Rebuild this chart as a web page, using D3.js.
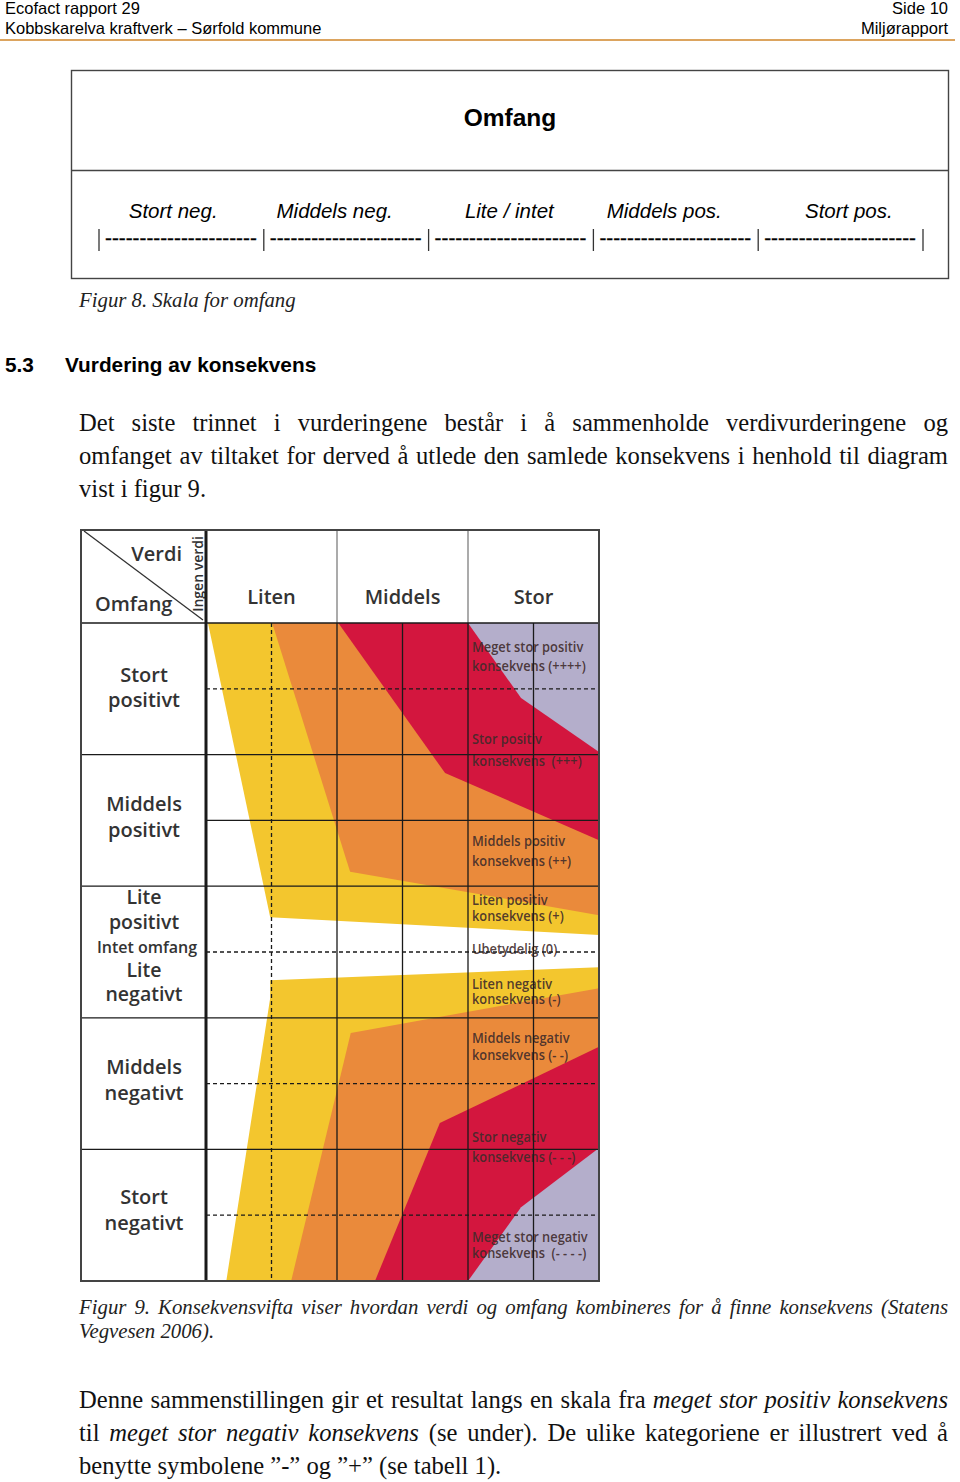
<!DOCTYPE html>
<html><head><meta charset="utf-8">
<script src="https://cdn.jsdelivr.net/npm/d3@7"></script>
<style>body{margin:0;background:#fff}text{white-space:pre}</style>
</head><body>
<svg id="c" width="960" height="1482"></svg>
<script>
// ---------------- DATA ----------------
const headerLeft = ["Ecofact rapport 29", "Kobbskarelva kraftverk – Sørfold kommune"];
const headerRight = ["Side 10", "Miljørapport"];
const omfangTitle = "Omfang";
const omfangScaleLabels = ["Stort neg.", "Middels neg.", "Lite / intet", "Middels pos.", "Stort pos."];
const omfangScaleLabelPos = [0.45, 1.43, 2.49, 3.43, 4.55];   // in segment units
const fig8Caption = "Figur 8. Skala for omfang";
const sectionNo = "5.3";
const sectionTitle = "Vurdering av konsekvens";
const para1 = [
  [{t: "Det siste trinnet i vurderingene består i å sammenholde verdivurderingene og"}],
  [{t: "omfanget av tiltaket for derved å utlede den samlede konsekvens i henhold til diagram"}],
  [{t: "vist i figur 9."}]
];
const fig9Caption = [
  [{t: "Figur 9. Konsekvensvifta viser hvordan verdi og omfang kombineres for å finne konsekvens (Statens", i: true}],
  [{t: "Vegvesen 2006).", i: true}]
];
const para2 = [
  [{t: "Denne sammenstillingen gir et resultat langs en skala fra "}, {t: "meget stor positiv konsekvens", i: true}],
  [{t: "til "}, {t: "meget stor negativ konsekvens", i: true}, {t: " (se under). De ulike kategoriene er illustrert ved å"}],
  [{t: "benytte symbolene ”-” og ”+” (se tabell 1)."}]
];

// Diagram: verdi axis 0..6 (Ingen verdi 0-1, Liten 0-2, Middels 2-4, Stor 4-6), omfang axis +5..-5
const verdiCategories = ["Liten", "Middels", "Stor"];
const verdiCategoryRange = [[0, 2], [2, 4], [4, 6]];
const verdiGrid = [1, 2, 3, 4, 5];
const verdiGridDashed = [1];
const omfangGrid = [4, 3, 2, 1, 0, -1, -2, -3, -4];
const omfangGridDashed = [4, 0, -2, -4];
const omfangGridFull = [3, 1, -1, -3];

const omfangRowLabels = [
  {t: "Stort", v: 4.21}, {t: "positivt", v: 3.83},
  {t: "Middels", v: 2.25}, {t: "positivt", v: 1.85},
  {t: "Lite", v: 0.83, mid: true}, {t: "positivt", v: 0.45, mid: true},
  {t: "Intet omfang", v: 0.08, small: true},
  {t: "Lite", v: -0.27, mid: true}, {t: "negativt", v: -0.64, mid: true},
  {t: "Middels", v: -1.75}, {t: "negativt", v: -2.14},
  {t: "Stort", v: -3.72}, {t: "negativt", v: -4.12}
];

// zone polygons, vertices as [verdi, omfang]
const zoneYellowPos   = [[0.03, 5], [6, 5], [6, 0.26], [0.98, 0.53]];
const zoneOrangePos   = [[1.01, 5], [6, 5], [6, 0.56], [2.2, 1.22]];
const zoneRedPos      = [[2.02, 5], [6, 5], [6, 1.70], [3.65, 2.72]];
const zoneLavenderPos = [[4.0, 5], [6, 5], [6, 3.04], [4.81, 3.86]];
const zoneYellowNeg   = [[0.98, -0.43], [6, -0.23], [6, -5], [0.31, -5], [0.98, -0.70]];
const zoneOrangeNeg   = [[2.21, -1.23], [6, -0.55], [6, -5], [1.30, -5]];
const zoneRedNeg      = [[3.57, -2.60], [6, -1.44], [6, -5], [2.58, -5]];
const zoneLavenderNeg = [[4.81, -3.88], [6, -2.98], [6, -5], [4.0, -5]];

const consequenceLabels = [
  {t: "Meget stor positiv", v: 4.63}, {t: "konsekvens (++++)", v: 4.35},
  {t: "Stor positiv", v: 3.23}, {t: "konsekvens  (+++)", v: 2.90},
  {t: "Middels positiv", v: 1.69}, {t: "konsekvens (++)", v: 1.38},
  {t: "Liten positiv", v: 0.79}, {t: "konsekvens (+)", v: 0.55},
  {t: "Ubetydelig (0)", v: 0.04},
  {t: "Liten negativ", v: -0.48}, {t: "konsekvens (-)", v: -0.71},
  {t: "Middels negativ", v: -1.31}, {t: "konsekvens (- -)", v: -1.57},
  {t: "Stor negativ", v: -2.81}, {t: "konsekvens (- - -)", v: -3.12},
  {t: "Meget stor negativ", v: -4.33}, {t: "konsekvens  (- - - -)", v: -4.57}
];

// ---------------- DRAW ----------------
const svg = d3.select("#c");
svg.append("rect").attr("width", 960).attr("height", 1482).attr("fill", "#fff");
const SANS = "'Liberation Sans', Arial, sans-serif";
const SERIF = "'Liberation Serif', 'Times New Roman', serif";
const DIAG = "'Open Sans', 'Noto Sans', sans-serif";

// page header
const hdr = svg.append("g").attr("font-family", SANS).attr("font-size", 16.5).attr("fill", "#000");
hdr.selectAll("text.l").data(headerLeft).join("text").attr("class", "l")
  .attr("x", 5).attr("y", (d, i) => 14 + i * 19.5).text(d => d);
hdr.selectAll("text.r").data(headerRight).join("text").attr("class", "r")
  .attr("x", 948).attr("text-anchor", "end").attr("y", (d, i) => 14 + i * 19.5).text(d => d);
svg.append("line").attr("x1", 0).attr("x2", 955).attr("y1", 40).attr("y2", 40)
  .attr("stroke", "#dca45f").attr("stroke-width", 2);

// Omfang scale box
const ob = svg.append("g");
ob.append("rect").attr("x", 71.5).attr("y", 70.5).attr("width", 877).attr("height", 208)
  .attr("fill", "none").attr("stroke", "#444").attr("stroke-width", 1.4);
ob.append("line").attr("x1", 71.5).attr("x2", 948.5).attr("y1", 170.5).attr("y2", 170.5)
  .attr("stroke", "#444").attr("stroke-width", 1.4);
ob.append("text").attr("x", 510).attr("y", 126).attr("text-anchor", "middle")
  .attr("font-family", SANS).attr("font-weight", "bold").attr("font-size", 24.5).text(omfangTitle);
const sx = d3.scaleLinear().domain([0, 5]).range([99, 923]);
ob.selectAll("text.sl").data(omfangScaleLabels).join("text").attr("class", "sl")
  .attr("x", (d, i) => sx(omfangScaleLabelPos[i])).attr("y", 218).attr("text-anchor", "middle")
  .attr("font-family", SANS).attr("font-style", "italic").attr("font-size", 20.5).text(d => d);
ob.selectAll("line.bar").data(d3.range(6)).join("line").attr("class", "bar")
  .attr("x1", d => sx(d)).attr("x2", d => sx(d)).attr("y1", 229).attr("y2", 251)
  .attr("stroke", "#333").attr("stroke-width", 1.3);
ob.selectAll("text.dash").data(d3.range(5)).join("text").attr("class", "dash")
  .attr("x", d => sx(d) + 6).attr("y", 245)
  .attr("textLength", sx(1) - sx(0) - 13).attr("lengthAdjust", "spacingAndGlyphs")
  .attr("font-family", SANS).attr("font-size", 20).attr("stroke", "#000").attr("stroke-width", 0.3)
  .text("----------------------");

// captions, heading
svg.append("text").attr("x", 79).attr("y", 307).attr("font-family", SERIF).attr("font-style", "italic")
  .attr("font-size", 20.8).attr("fill", "#222").text(fig8Caption);
svg.append("text").attr("x", 5).attr("y", 372).attr("font-family", SANS).attr("font-weight", "bold")
  .attr("font-size", 20.8).text(sectionNo);
svg.append("text").attr("x", 65).attr("y", 372).attr("font-family", SANS).attr("font-weight", "bold")
  .attr("font-size", 20.8).text(sectionTitle);

function drawLine(runs, x0, x1, yb, size, justify, fill) {
  const g = svg.append("g").attr("font-family", SERIF).attr("font-size", size).attr("fill", fill || "#111");
  if (!justify) {
    const t = g.append("text").attr("x", x0).attr("y", yb);
    runs.forEach(r => t.append("tspan").attr("font-style", r.i ? "italic" : null).text(r.t));
    return;
  }
  const words = [];
  runs.forEach(r => r.t.split(" ").filter(w => w).forEach(w => words.push({w, i: r.i})));
  const nodes = words.map(d => g.append("text").attr("y", yb).attr("font-style", d.i ? "italic" : null).text(d.w));
  const widths = nodes.map(n => n.node().getComputedTextLength());
  const gap = (x1 - x0 - d3.sum(widths)) / (words.length - 1);
  let xx = x0;
  nodes.forEach((n, k) => { n.attr("x", xx); xx += widths[k] + gap; });
}
para1.forEach((l, k) => drawLine(l, 79, 948, 431 + k * 32.8, 24.6, k < para1.length - 1));
fig9Caption.forEach((l, k) => drawLine(l, 79, 948, 1314 + k * 24, 20.8, k < fig9Caption.length - 1, "#222"));
para2.forEach((l, k) => drawLine(l, 79, 948, 1408 + k * 32.8, 24.6, k < para2.length - 1));

// ---------------- DIAGRAM ----------------
const x = d3.scaleLinear().domain([0, 6]).range([206, 599]);
const y = d3.scaleLinear().domain([5, -5]).range([623, 1281]);
const diagTop = 530, diagLeft = 81;
const dg = svg.append("g");

const zones = [
  {p: zoneYellowPos, c: "#f3c62e"}, {p: zoneOrangePos, c: "#ea8a3b"},
  {p: zoneRedPos, c: "#d3163e"}, {p: zoneLavenderPos, c: "#b4aecb"},
  {p: zoneYellowNeg, c: "#f3c62e"}, {p: zoneOrangeNeg, c: "#ea8a3b"},
  {p: zoneRedNeg, c: "#d3163e"}, {p: zoneLavenderNeg, c: "#b4aecb"}
];
const zoneLine = d3.line().x(d => x(d[0])).y(d => y(d[1])).curve(d3.curveLinearClosed);
dg.selectAll("path.zone").data(zones).join("path").attr("class", "zone")
  .attr("d", d => zoneLine(d.p)).attr("fill", d => d.c);

// consequence labels
const cl = dg.append("g").attr("font-family", DIAG).attr("font-weight", 600).attr("font-size", 13.5)
  .attr("fill", "#3e2a2a").attr("fill-opacity", 0.9);
cl.selectAll("text").data(consequenceLabels).join("text")
  .attr("x", 472).attr("y", d => y(d.v) + 5).text(d => d.t)
  .each(function () {
    const w = this.getComputedTextLength();
    d3.select(this).attr("textLength", w * 0.95).attr("lengthAdjust", "spacingAndGlyphs");
  });

// row labels
const rl = dg.append("g").attr("font-family", DIAG).attr("font-weight", 600).attr("fill", "#333")
  .attr("text-anchor", "middle");
rl.selectAll("text").data(omfangRowLabels).join("text")
  .attr("x", d => d.small ? 147 : 144)
  .attr("y", d => y(d.v) + (d.small ? 6 : 7))
  .attr("font-size", d => d.small ? 16 : (d.mid ? 19.5 : 20)).text(d => d.t);

// header labels
const hl = dg.append("g").attr("font-family", DIAG).attr("font-weight", 600).attr("fill", "#333");
hl.selectAll("text").data(verdiCategories).join("text")
  .attr("x", (d, i) => x(d3.mean(verdiCategoryRange[i]))).attr("y", 604)
  .attr("text-anchor", "middle").attr("font-size", 20).text(d => d);
hl.append("text").attr("x", 182).attr("y", 561).attr("text-anchor", "end").attr("font-size", 20).text("Verdi");
hl.append("text").attr("x", 95).attr("y", 611).attr("font-size", 20).text("Omfang");
hl.append("text").attr("transform", "translate(203,574) rotate(-90)").attr("text-anchor", "middle")
  .attr("font-size", 14).text("Ingen verdi");
dg.append("line").attr("x1", 84).attr("y1", 531).attr("x2", 203).attr("y2", 620)
  .attr("stroke", "#333").attr("stroke-width", 1.3);

// grid
const gl = dg.append("g").attr("stroke", "#1a1a1a").attr("stroke-width", 1.3);
gl.selectAll("line.v").data(verdiGrid).join("line").attr("class", "v")
  .attr("x1", d => x(d)).attr("x2", d => x(d)).attr("y1", y(5)).attr("y2", y(-5))
  .attr("stroke-dasharray", d => verdiGridDashed.includes(d) ? "4,3" : null);
gl.selectAll("line.vh").data(verdiCategoryRange.slice(1)).join("line").attr("class", "vh")
  .attr("x1", d => x(d[0])).attr("x2", d => x(d[0])).attr("y1", diagTop).attr("y2", y(5))
  .attr("stroke", "#666").attr("stroke-width", 1.1);
gl.selectAll("line.h").data(omfangGrid).join("line").attr("class", "h")
  .attr("x1", d => omfangGridFull.includes(d) ? diagLeft : x(0)).attr("x2", x(6))
  .attr("y1", d => y(d)).attr("y2", d => y(d))
  .attr("stroke-dasharray", d => omfangGridDashed.includes(d) ? "4,3" : null);
gl.append("line").attr("x1", diagLeft).attr("x2", x(6)).attr("y1", y(5)).attr("y2", y(5));
gl.append("line").attr("x1", x(0)).attr("x2", x(0)).attr("y1", diagTop).attr("y2", y(-5))
  .attr("stroke-width", 3);
dg.append("rect").attr("x", diagLeft).attr("y", diagTop).attr("width", x(6) - diagLeft).attr("height", y(-5) - diagTop)
  .attr("fill", "none").attr("stroke", "#444").attr("stroke-width", 2);
</script>
</body></html>
